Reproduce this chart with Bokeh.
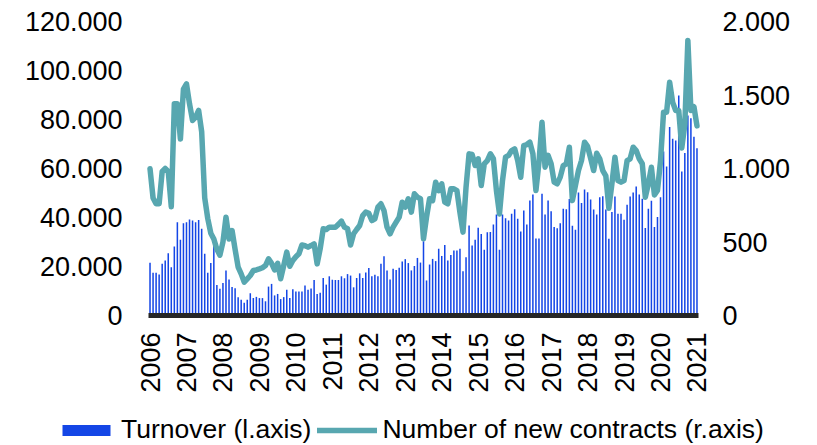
from bokeh.plotting import figure
from bokeh.models import Range1d, Legend, LegendItem, ColumnDataSource
from bokeh.core.properties import value
from bokeh.embed import file_html
from bokeh.resources import INLINE
import math

# ---- data (monthly, Jan 2006 .. Jan 2021) ----
year_labels = [str(y) for y in range(2006, 2022)]

turnover = [
    21500, 17400, 17500, 16700, 21100, 22400, 25400, 19700, 28200, 38100,
    30900, 37700, 38100, 39200, 38800, 38100, 39000, 35400, 25200, 17400,
    21400, 29000, 12500, 10900, 13300, 18400, 14700, 11600, 11100, 7500,
    6400, 5200, 6400, 9100, 7100, 7600, 7100, 7100, 5800, 11800,
    12900, 8200, 8800, 6700, 7500, 10500, 7100, 10700, 9800, 9800,
    9800, 12200, 10500, 11000, 14500, 8800, 9300, 15300, 12600, 16000,
    14600, 14500, 14500, 16000, 15200, 16900, 16300, 11500, 15300, 17200,
    15300, 17600, 19400, 16000, 16600, 16000, 21100, 24200, 18400, 14700,
    19100, 18600, 19500, 22000, 23000, 21400, 18400, 20200, 23500, 21600,
    30300, 14300, 20800, 23100, 22200, 27200, 24300, 28800, 22400, 24700,
    26500, 26500, 27200, 18100, 23800, 36700, 28600, 30900, 35800, 33300,
    26800, 34000, 34100, 37100, 41200, 26800, 41200, 39700, 38800, 41500,
    43400, 39500, 34300, 42900, 37100, 46900, 49400, 31400, 31400, 49700,
    41200, 46900, 42600, 36100, 35600, 37700, 43600, 43400, 47600, 36600,
    35000, 50200, 45900, 51400, 50300, 47300, 43300, 41200, 48300, 48700,
    43300, 31300, 42200, 48600, 41500, 41500, 39100, 45200, 48600, 50200,
    52700, 49400, 47700, 35700, 43600, 46800, 36100, 40200, 48300, 66900,
    60800, 76900, 72100, 71400, 89800, 58800, 66300, 81600, 80500, 73000,
    68300,
]

new_contracts = [
    998, 800, 760, 760, 980, 1000, 980, 740, 1440, 1440,
    1200, 1540, 1576, 1440, 1327, 1350, 1395, 1250, 800, 660,
    560, 520, 450, 410, 500, 669, 520, 578, 450, 329,
    283, 227, 249, 272, 306, 310, 317, 325, 340, 386,
    355, 310, 355, 250, 340, 431, 335, 374, 400, 420,
    480, 475, 465, 476, 488, 351, 454, 590, 585, 601,
    601, 601, 620, 642, 601, 590, 480, 556, 585, 612,
    680, 703, 695, 646, 658, 737, 760, 714, 601, 556,
    601, 635, 669, 771, 737, 794, 703, 828, 805, 794,
    522, 669, 794, 782, 907, 850, 896, 771, 760, 862,
    862, 850, 700, 567, 873, 1100, 1095, 1020, 1066, 884,
    1032, 1054, 1100, 1066, 850, 691, 918, 1077, 1089, 1122,
    1134, 1054, 941, 1156, 1163, 1179, 1100, 850, 1043, 1315,
    1009, 1089, 1032, 907, 896, 941, 1020, 1032, 1145, 782,
    884, 986, 1054, 1179, 1150, 1070, 986, 1104, 1066, 986,
    950, 730, 896, 1077, 918, 907, 918, 1054, 1066, 1145,
    1122, 1066, 1032, 805, 896, 1009, 820, 850, 1050, 1383,
    1383, 1587, 1450, 1395, 1395, 1140, 1300, 1871, 1395, 1420,
    1290,
]

series_labels = ["Turnover (l.axis)", "Number of new contracts (r.axis)"]
left_ticks = [0, 20000, 40000, 60000, 80000, 100000, 120000]
right_ticks = [0, 500, 1000, 1500, 2000]
left_max = 120000
right_max = 2000


def fmt(v):
    return f"{v:,}".replace(",", ".")


# ---- layout (screen pixels) ----
W, H = 817, 445
PLOT_LEFT, PLOT_RIGHT, PLOT_TOP, ZERO_Y = 148, 698, 21, 315

n = len(turnover)
slot = (PLOT_RIGHT - PLOT_LEFT) / n
x_start = -0.5 - PLOT_LEFT / slot
x_end = n - 0.5 + (W - PLOT_RIGHT) / slot


def y_range_for(vmax):
    per_px = vmax / (ZERO_Y - PLOT_TOP)
    return Range1d(-(H - ZERO_Y) * per_px, vmax + PLOT_TOP * per_px)


FONT = value("Liberation Sans")
FS = value("27px")
BAR_COLOR = "#1446E6"
LINE_COLOR = "#58A7B0"

months = list(range(n))
src = ColumnDataSource(dict(x=months, turnover=turnover, contracts=new_contracts))

p = figure(width=W, height=H, output_backend="svg", toolbar_location=None,
           x_range=Range1d(x_start, x_end), y_range=y_range_for(left_max),
           x_axis_location=None, y_axis_location=None, min_border=0)
p.extra_y_ranges = {"r": y_range_for(right_max)}
p.outline_line_color = None
p.xgrid.visible = False
p.ygrid.visible = False
p.background_fill_color = "white"
p.border_fill_color = "white"

bars = p.vbar(x="x", top="turnover", width=0.5, source=src,
              fill_color=BAR_COLOR, line_color=None)
line = p.line(x="x", y="contracts", source=src, y_range_name="r",
              line_color=LINE_COLOR, line_width=5.5, line_join="round", line_cap="round")

# baseline (x axis line)
p.segment(x0=[-0.5], y0=[0], x1=[n - 0.5], y1=[0], line_color="#262626", line_width=5)

# left axis labels
p.text(x=[-0.5] * len(left_ticks), y=left_ticks, text=[fmt(v) for v in left_ticks],
       x_offset=-26, text_align="right", text_baseline="middle",
       text_font=FONT, text_font_size=FS, text_color="#000000")

# right axis labels
p.text(x=[n - 0.5] * len(right_ticks), y=right_ticks, text=[fmt(v) for v in right_ticks],
       y_range_name="r", x_offset=24, text_align="left", text_baseline="middle",
       text_font=FONT, text_font_size=FS, text_color="#000000")

# year labels (vertical, below the baseline)
p.text(x=[12 * i for i in range(len(year_labels))], y=[0] * len(year_labels),
       text=year_labels, angle=math.pi / 2, y_offset=17,
       text_align="right", text_baseline="middle",
       text_font=FONT, text_font_size=FS, text_color="#000000")

legend = Legend(items=[LegendItem(label=series_labels[0], renderers=[bars]),
                       LegendItem(label=series_labels[1], renderers=[line])],
                orientation="horizontal", location=(56, 0),
                label_text_font="Liberation Sans", label_text_font_size="26.5px",
                label_text_color="#000000",
                glyph_width=60, glyph_height=14, label_standoff=5, spacing=6,
                padding=0, margin=0, border_line_color=None,
                background_fill_alpha=0)
p.add_layout(legend, "center")

open("out.html", "w").write(file_html(p, INLINE))
